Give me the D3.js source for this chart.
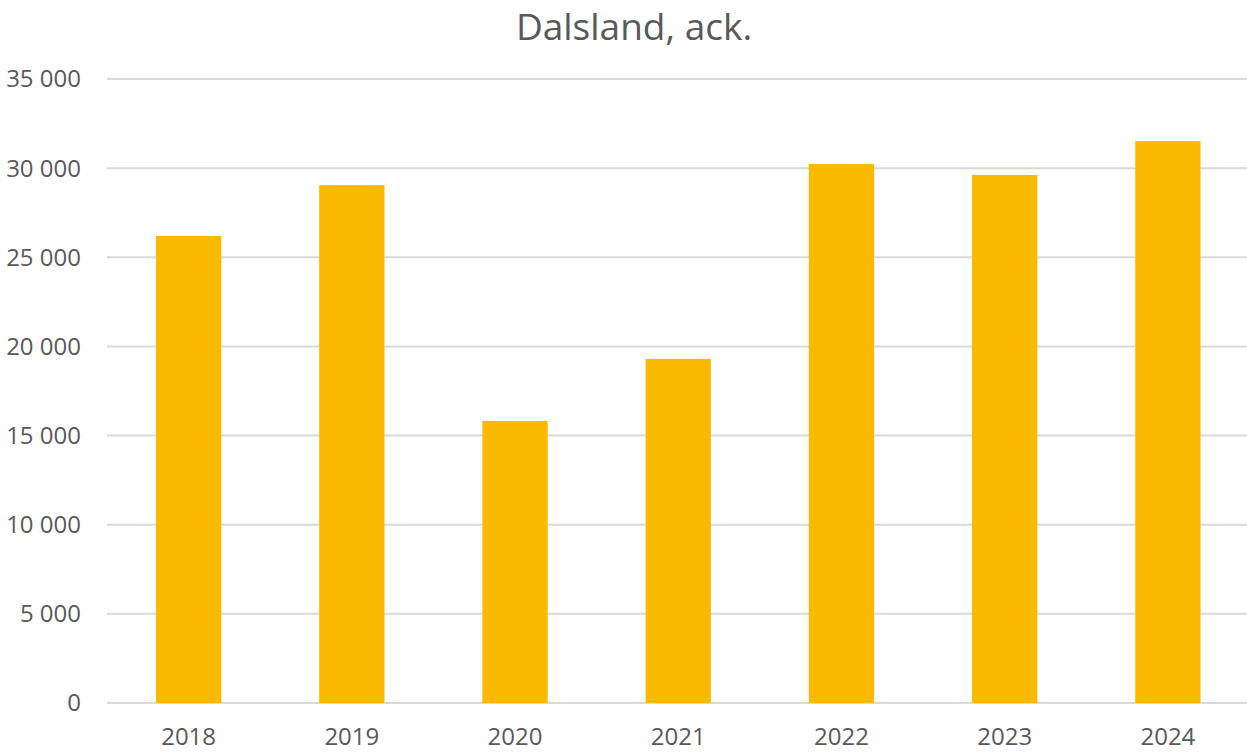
<!DOCTYPE html>
<html><head><meta charset="utf-8">
<script src="https://cdn.jsdelivr.net/npm/d3@7"></script>
<style>body{margin:0;background:#fff;}svg{display:block;}</style>
</head><body>
<svg id="c" width="1247" height="752"></svg>
<script>
const categories = ["2018","2019","2020","2021","2022","2023","2024"];
const values = [26200, 29050, 15820, 19300, 30230, 29620, 31520];
const yTicks = [0,5000,10000,15000,20000,25000,30000,35000];
const title = "Dalsland, ack.";

const svg = d3.select("#c");
const W = 1247, H = 752;
const m = {left:107, top:79, bottom:49};
const x = d3.scaleBand().domain(categories).range([m.left, 1249.5]).paddingInner(0.6).paddingOuter(0.3);
const y = d3.scaleLinear().domain([0,35000]).range([H - m.bottom, m.top]);
const fmt = v => d3.format(",")(v).replace(/,/g, " ");
const font = "'Open Sans', sans-serif";

svg.append("text").attr("x", 634).attr("y", 40).attr("text-anchor","middle")
  .attr("font-family", font).attr("font-size", 37).attr("fill","#595959").text(title);

const g = svg.append("g");
g.selectAll("line.grid").data(yTicks).join("line")
  .attr("x1", m.left).attr("x2", W).attr("y1", d=>y(d)).attr("y2", d=>y(d))
  .attr("stroke","#d9d9d9").attr("stroke-width",2);
g.selectAll("text.yt").data(yTicks).join("text")
  .attr("x", 81).attr("y", d=>y(d)).attr("dy","0.35em").attr("text-anchor","end")
  .attr("font-family", font).attr("font-size", 24).attr("fill","#595959").text(d=>fmt(d));

g.selectAll("rect").data(values).join("rect")
  .attr("x",(d,i)=>x(categories[i])).attr("width", x.bandwidth())
  .attr("y", d=>y(d)).attr("height", d=>y(0)-y(d)).attr("fill","#FBBA00");

g.selectAll("text.xt").data(categories).join("text")
  .attr("x", d=>x(d)+x.bandwidth()/2).attr("y", 745).attr("text-anchor","middle")
  .attr("font-family", font).attr("font-size", 24).attr("fill","#595959").text(d=>d);
</script>
</body></html>
